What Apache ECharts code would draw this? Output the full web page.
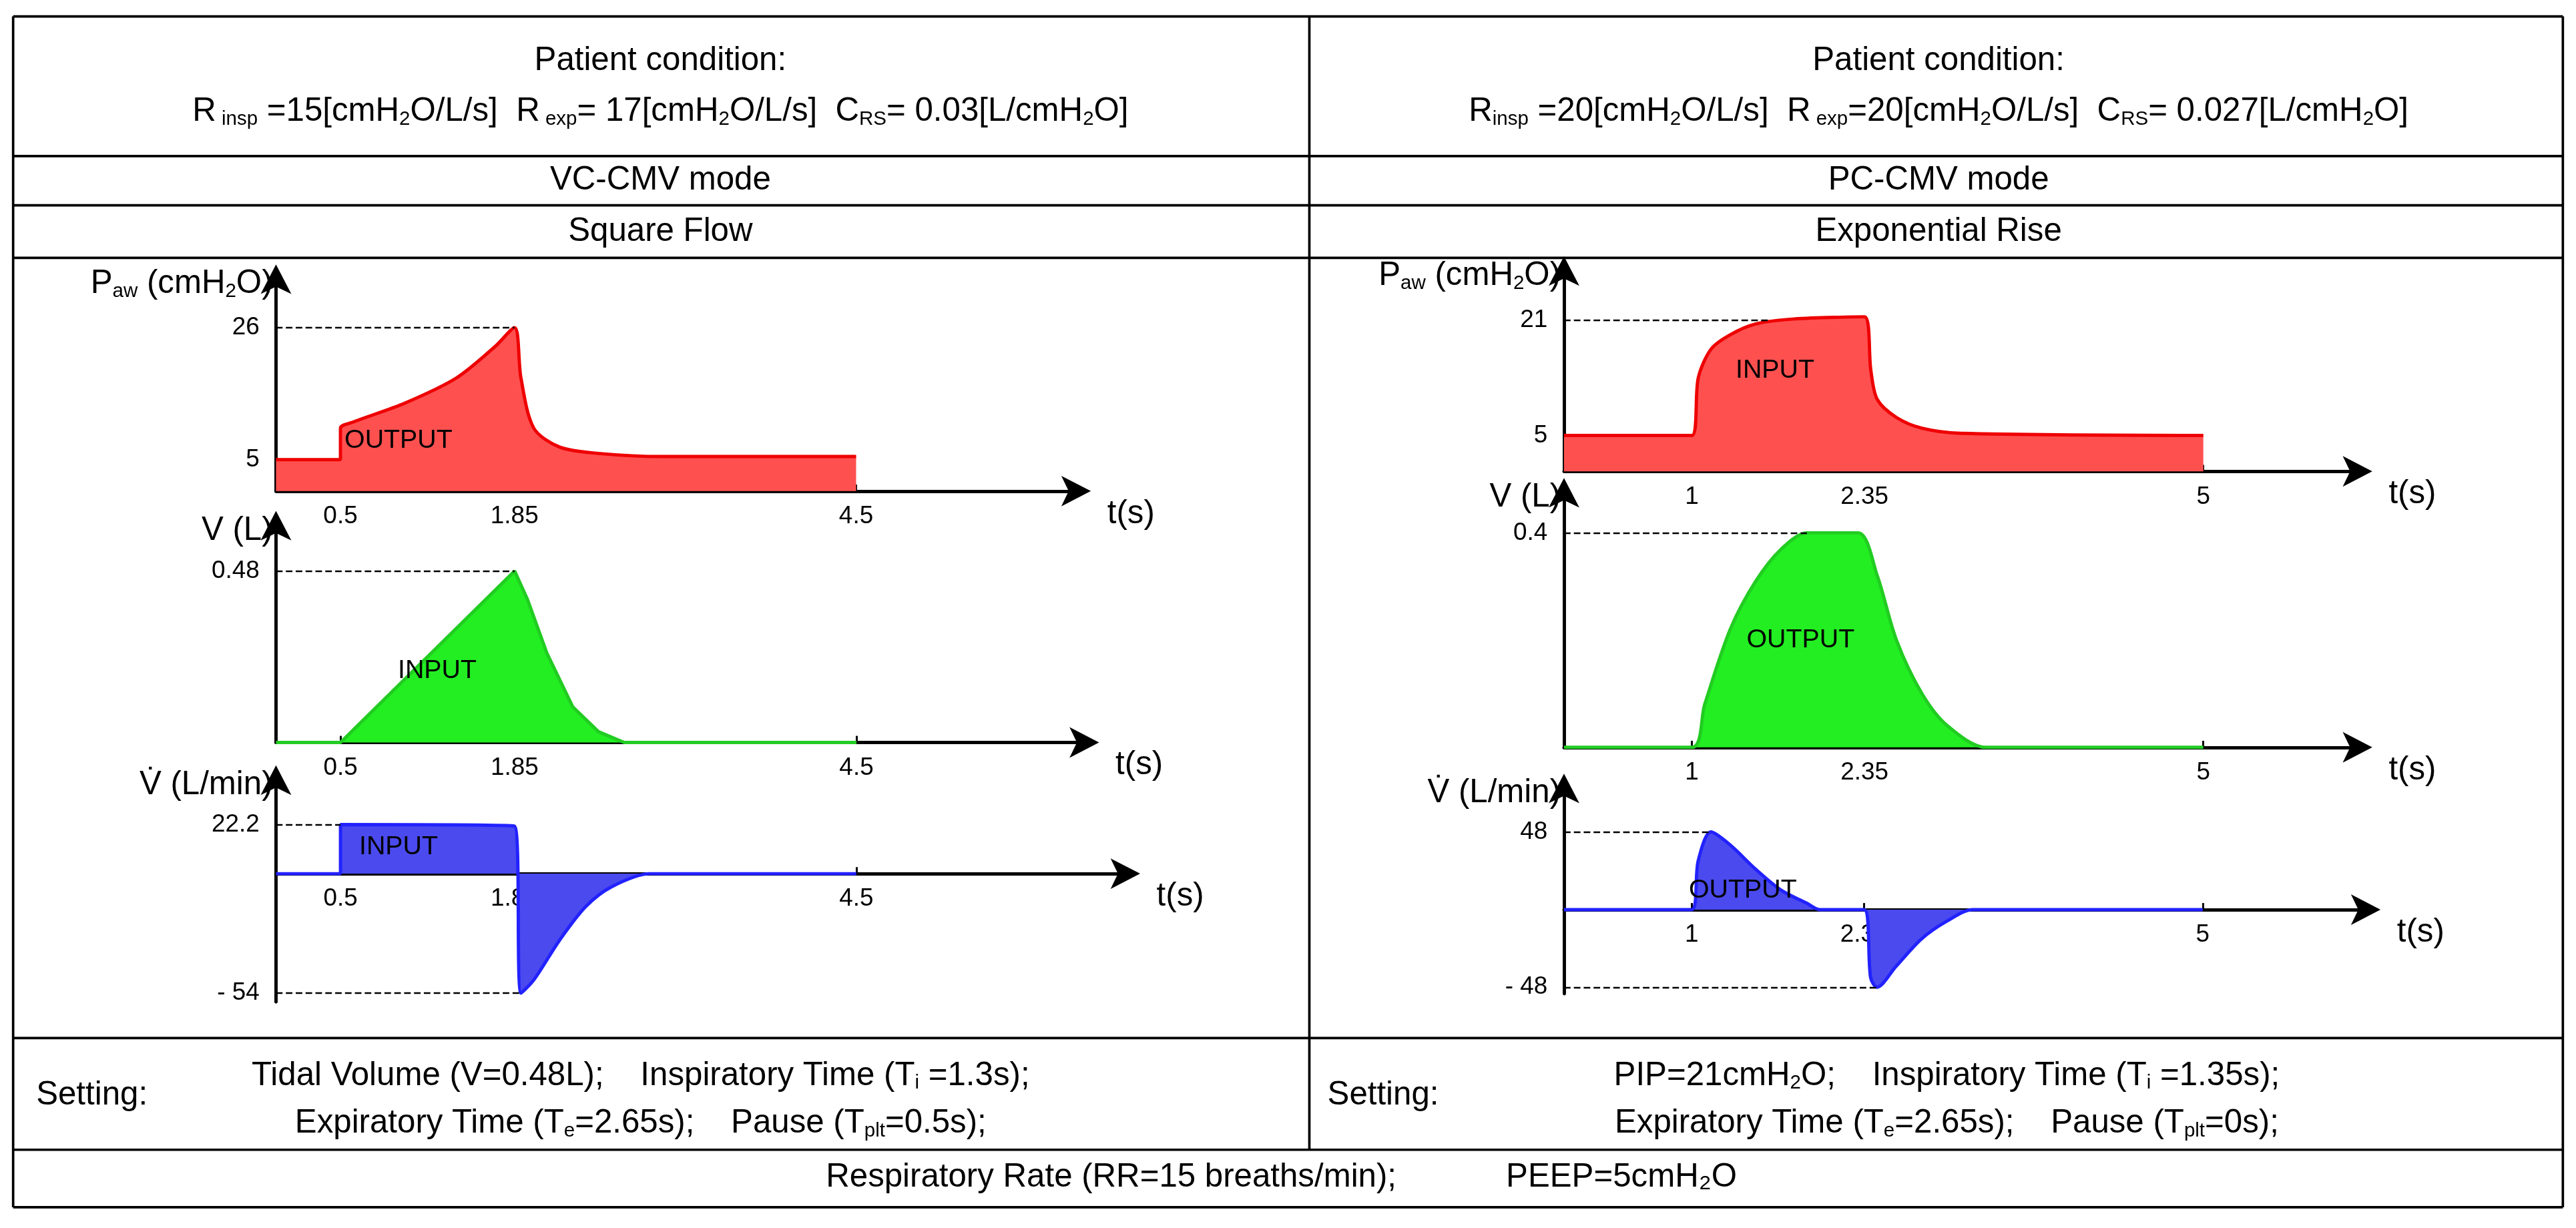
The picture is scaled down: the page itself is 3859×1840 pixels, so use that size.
<!DOCTYPE html>
<html>
<head>
<meta charset="utf-8">
<script src="https://cdn.jsdelivr.net/npm/echarts@6/dist/echarts.min.js"></script>
<style>html,body{margin:0;padding:0;background:#fff}#main{width:3859px;height:1840px}</style>
</head>
<body>
<div id="main"></div>
<script>
// waveforms, [t (s), value]
const pawVC = [[0,5],[0.5,5],[0.5,10],[0.6,11],[1.0,14],[1.4,18],[1.7,23],[1.85,26],[1.9,18],[2.0,10],[2.2,7],[2.5,6],[3.0,5.5],[4.5,5.5]];
const volVC = [[0,0],[0.5,0],[1.85,0.48],[1.95,0.4],[2.1,0.25],[2.3,0.1],[2.5,0.03],[2.7,0],[4.5,0]];
const flowVC = [[0,0],[0.5,0],[0.5,22.2],[1.85,21.5],[1.9,-54],[2.0,-48],[2.2,-30],[2.4,-15],[2.6,-6],[2.9,0],[4.5,0]];
const pawPC = [[0,5],[1,5],[1.05,13],[1.15,17],[1.3,19],[1.5,20.5],[1.8,21.2],[2.35,21.5],[2.4,14],[2.45,10],[2.6,7.5],[2.8,6],[3.1,5.3],[5,5]];
const volPC = [[0,0],[1,0],[1.1,0.08],[1.3,0.22],[1.5,0.31],[1.7,0.37],[1.9,0.4],[2.3,0.4],[2.45,0.32],[2.6,0.2],[2.8,0.1],[3.0,0.04],[3.3,0],[5,0]];
const flowPC = [[0,0],[1,0],[1.05,30],[1.15,48],[1.3,40],[1.5,25],[1.7,12],[1.9,4],[2.0,0],[2.35,0],[2.4,-42],[2.45,-48],[2.6,-35],[2.8,-18],[3.0,-7],[3.2,0],[5,0]];
const ticksVC = [0.5, 1.85, 4.5];
const ticksPC = [1, 2.35, 5];

const K = 3859 / 1568;
const p = v => v * K;
const FONT = 'Liberation Sans';
const FS = p(20);

function sub(a, s) { return '{a|' + a + '}{s|' + s + '}'; }
const rich = { a: { fontSize: FS, fontFamily: FONT, color: '#000' }, s: { fontSize: p(12), fontFamily: FONT, color: '#000', padding: [p(9), 0, 0, 0] } };

// table lines
const lines = [
  [8,10,1560,10],[8,735,1560,735],[8,10,8,735],[1560,10,1560,735],
  [8,95,1560,95],[8,125,1560,125],[8,157,1560,157],[8,632,1560,632],[8,700,1560,700],[797,10,797,700]
];
const graphic = lines.map(l => ({ type: 'line', shape: { x1: p(l[0]), y1: p(l[1]), x2: p(l[2]), y2: p(l[3]) }, style: { stroke: '#000', lineWidth: p(1.5) } }));
function txt(x, y, t, align) {
  graphic.push({ type: 'text', x: p(x), y: p(y), style: { text: t, rich: rich, fontSize: FS, fontFamily: FONT, fill: '#000', align: align || 'center', verticalAlign: 'middle' } });
}
txt(402, 37, 'Patient condition:'); txt(1180, 37, 'Patient condition:');
txt(402, 68, sub('R',' insp') + '{a| =15[cmH}' + sub('','2') + '{a|O/L/s]  }' + sub('R',' exp') + '{a|= 17[cmH}' + sub('','2') + '{a|O/L/s]  C}' + sub('','RS') + '{a|= 0.03[L/cmH}' + sub('','2') + '{a|O]}');
txt(1180, 68, sub('R','insp') + '{a| =20[cmH}' + sub('','2') + '{a|O/L/s]  }' + sub('R',' exp') + '{a|=20[cmH}' + sub('','2') + '{a|O/L/s]  C}' + sub('','RS') + '{a|= 0.027[L/cmH}' + sub('','2') + '{a|O]}');
txt(402, 110, 'VC-CMV mode'); txt(1180, 110, 'PC-CMV mode');
txt(402, 141, 'Square Flow'); txt(1180, 141, 'Exponential Rise');
txt(22, 667, 'Setting:', 'left'); txt(808, 667, 'Setting:', 'left');
txt(390, 655, '{a|Tidal Volume (V=0.48L);    Inspiratory Time (T}' + sub('','i') + '{a| =1.3s);}');
txt(390, 684, '{a|Expiratory Time (T}' + sub('','e') + '{a|=2.65s);    Pause (T}' + sub('','plt') + '{a|=0.5s);}');
txt(1185, 655, '{a|PIP=21cmH}' + sub('','2') + '{a|O;    Inspiratory Time (T}' + sub('','i') + '{a| =1.35s);}');
txt(1185, 684, '{a|Expiratory Time (T}' + sub('','e') + '{a|=2.65s);    Pause (T}' + sub('','plt') + '{a|=0s);}');
txt(780, 717, 'Respiratory Rate (RR=15 breaths/min);            PEEP=5cmH\u2082O');

const panels = [
  { box: [168, 660, 165, 299], xmax: 6.27, ymin: 0, ymax: 35, data: pawVC, ticks: ticksVC, yt: [5, 26], dash: [[26, 1.85]], name: sub('P','aw') + '{a| (cmH}' + sub('','2') + '{a|O)}', fill: '#ff5050', line: '#ee0000', lab: ['OUTPUT', 0.95, 8], smooth: 0.3 },
  { box: [168, 665, 315, 452], xmax: 6.33, ymin: 0, ymax: 0.63, data: volVC, ticks: ticksVC, yt: [0.48], dash: [[0.48, 1.85]], name: '{a|V (L)}', fill: '#22ee22', line: '#22cc22', lab: ['INPUT', 1.25, 0.2], smooth: false },
  { box: [168, 690, 470, 610], xmax: 6.65, ymin: -58, ymax: 46, data: flowVC, ticks: ticksVC, yt: [22.2, -54], dash: [[22.2, 0.5], [-54, 1.9]], name: '{a|V\u0307 (L/min)}', fill: '#4a4aee', line: '#2222ff', lab: ['INPUT', 0.95, 12], smooth: 0.3 },
  { box: [952, 1440, 160, 287], xmax: 6.27, ymin: 0, ymax: 29, data: pawPC, ticks: ticksPC, yt: [5, 21], dash: [[21, 1.6]], name: sub('P','aw') + '{a| (cmH}' + sub('','2') + '{a|O)}', fill: '#ff5050', line: '#ee0000', lab: ['INPUT', 1.65, 14], smooth: 0.3 },
  { box: [952, 1440, 295, 455], xmax: 6.27, ymin: 0, ymax: 0.49, data: volPC, ticks: ticksPC, yt: [0.4], dash: [[0.4, 1.9]], name: '{a|V (L)}', fill: '#22ee22', line: '#22cc22', lab: ['OUTPUT', 1.85, 0.2], smooth: 0.3 },
  { box: [952, 1445, 475, 605], xmax: 6.34, ymin: -52, ymax: 80, data: flowPC, ticks: ticksPC, yt: [48, -48], dash: [[48, 1.15], [-48, 2.45]], name: '{a|V\u0307 (L/min)}', fill: '#4a4aee', line: '#2222ff', lab: ['OUTPUT', 1.4, 12], smooth: 0.3 }
];

const grid = [], xAxis = [], yAxis = [], series = [];
const axisLine = { show: true, onZero: false, symbol: ['none', 'arrow'], symbolSize: [p(14), p(18)], symbolOffset: [0, p(4)], lineStyle: { color: '#000', width: p(2) } };
panels.forEach((c, i) => {
  const b = c.box;
  const h = b[3] - b[2];
  // lift the time axis up to value 0
  const zeroOff = c.ymin < 0 ? -(-c.ymin / (c.ymax - c.ymin)) * h : 0;
  grid.push({ left: p(b[0]), width: p(b[1] - b[0]), top: p(b[2]), height: p(h) });
  xAxis.push({ type: 'value', gridIndex: i, min: 0, max: c.xmax, offset: p(zeroOff), splitLine: { show: false }, axisLine: axisLine,
    axisTick: { show: true, customValues: c.ticks, length: p(4), inside: true, lineStyle: { color: '#000', width: p(1.2) } },
    axisLabel: { customValues: c.ticks, fontSize: p(15), fontFamily: FONT, color: '#000', margin: p(8) },
    name: 't(s)', nameLocation: 'end', nameGap: p(14), nameTextStyle: { fontSize: FS, fontFamily: FONT, color: '#000', verticalAlign: 'top', align: 'left', padding: [p(4), 0, 0, 0] } });
  yAxis.push({ type: 'value', gridIndex: i, min: c.ymin, max: c.ymax, splitLine: { show: false }, axisLine: Object.assign({}, axisLine),
    axisTick: { show: false },
    axisLabel: { customValues: c.yt, fontSize: p(15), fontFamily: FONT, color: '#000', margin: p(10), formatter: v => (v < 0 ? '- ' + (-v) : String(v)) },
    name: c.name, nameLocation: 'end', nameGap: p(-8), nameTextStyle: { rich: rich, align: 'right', verticalAlign: 'middle', padding: [0, p(2), 0, 0] } });
  series.push({ type: 'line', xAxisIndex: i, yAxisIndex: i, data: c.data, showSymbol: false, smooth: c.smooth,
    lineStyle: { color: c.line, width: p(2) }, areaStyle: { color: c.fill, opacity: 1 },
    markLine: { silent: true, symbol: 'none', label: { show: false }, lineStyle: { color: '#000', type: 'dashed', width: p(1) },
      data: c.dash.map(d => [{ coord: [0, d[0]] }, { coord: [d[1], d[0]] }]) },
    markPoint: { silent: true, symbol: 'circle', symbolSize: 0, data: [{ coord: [c.lab[1], c.lab[2]] }],
      label: { show: true, formatter: c.lab[0], color: '#000', fontSize: p(16), fontFamily: FONT } } });
});

const chart = echarts.init(document.getElementById('main'));
chart.setOption({ animation: false, backgroundColor: '#fff', grid, xAxis, yAxis, series, graphic });
</script>
</body>
</html>
